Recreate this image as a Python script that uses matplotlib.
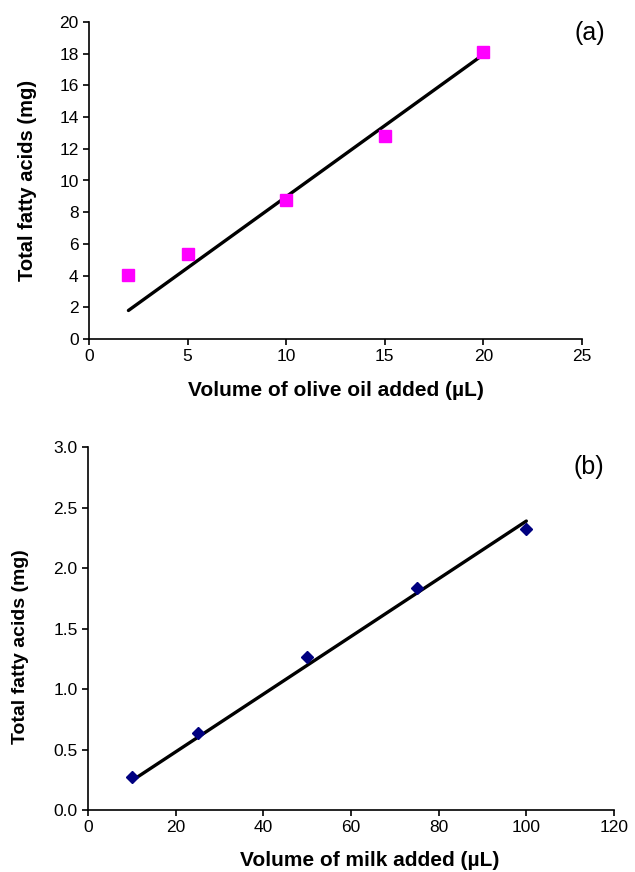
import matplotlib
matplotlib.use('Agg')
import matplotlib.pyplot as plt

plt.rcParams['font.family'] = ['Liberation Sans', 'DejaVu Sans']

# panel (a): olive oil
oil_vol = [2, 5, 10, 15, 20]
oil_fa = [4.05, 5.36, 8.76, 12.78, 18.1]
oil_line_x = [2, 20]
oil_line_y = [1.8, 17.95]

# panel (b): milk
milk_vol = [10, 25, 50, 75, 100]
milk_fa = [0.275, 0.637, 1.262, 1.835, 2.319]
milk_line_x = [10, 100]
milk_line_y = [0.242, 2.388]

W, H = 635, 872
fig = plt.figure(figsize=(W / 100, H / 100), dpi=100)

def make_ax(left, right, top, bottom):
    return fig.add_axes([left / W, 1 - bottom / H, (right - left) / W, (bottom - top) / H])

def style(ax):
    for s in ['top', 'right']:
        ax.spines[s].set_visible(False)
    for s in ['left', 'bottom']:
        ax.spines[s].set_linewidth(1.2)
    ax.tick_params(direction='out', length=4.5, width=1.2, labelsize=12.5, pad=3)

def place_labels(ax, xpos, ypos):
    ax.xaxis.label.set_va('center')
    ax.yaxis.label.set_va('center')
    ax.xaxis.set_label_coords(*xpos)
    ax.yaxis.set_label_coords(*ypos)

ax1 = make_ax(89, 582, 22, 339)
ax1.plot(oil_line_x, oil_line_y, color='black', lw=2.4, solid_capstyle='round')
ax1.plot(oil_vol, oil_fa, 's', color='#FF00FF', markersize=8, ls='none')
ax1.set_xlim(0, 25)
ax1.set_ylim(0, 20)
ax1.set_xticks(range(0, 26, 5))
ax1.set_yticks(range(0, 21, 2))
ax1.set_xlabel('Volume of olive oil added (µL)', fontsize=15, fontweight='bold')
ax1.set_ylabel('Total fatty acids (mg)', fontsize=14.5, fontweight='bold')
place_labels(ax1, (0.5, -0.161), (-0.124, 0.5))
ax1.text(1.016, 0.965, '(a)', transform=ax1.transAxes, fontsize=18, ha='center', va='center',
         clip_on=False)
style(ax1)

ax2 = make_ax(88, 614, 447, 810)
ax2.plot(milk_line_x, milk_line_y, color='black', lw=2.4, solid_capstyle='round')
ax2.plot(milk_vol, milk_fa, 'D', color='#000080', markersize=6, ls='none')
ax2.set_xlim(0, 120)
ax2.set_ylim(0, 3.0)
ax2.set_xticks(range(0, 121, 20))
yt = [0, 0.5, 1.0, 1.5, 2.0, 2.5, 3.0]
ax2.set_yticks(yt)
ax2.set_yticklabels(['%.1f' % v for v in yt])
ax2.set_xlabel('Volume of milk added (µL)', fontsize=15, fontweight='bold')
ax2.set_ylabel('Total fatty acids (mg)', fontsize=14, fontweight='bold')
place_labels(ax2, (0.536, -0.139), (-0.129, 0.449))
ax2.text(0.952, 0.945, '(b)', transform=ax2.transAxes, fontsize=18, ha='center', va='center')
style(ax2)

fig.savefig('out.png', dpi=100)
